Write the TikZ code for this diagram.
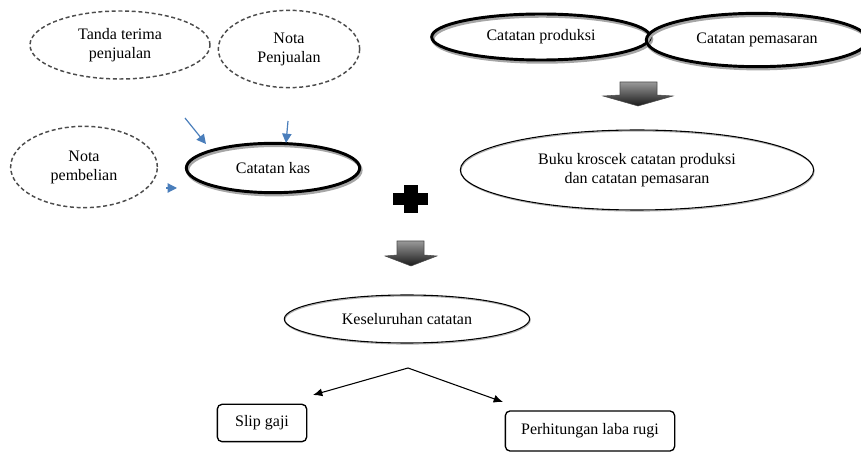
\documentclass[tikz,border=0pt]{standalone}
\usepackage{fontspec}
\setmainfont{Liberation Serif}
\usetikzlibrary{shapes.geometric, arrows.meta}
\definecolor{noteblue}{HTML}{4A7EBB}

\begin{document}
\begin{tikzpicture}[x=0.75pt, y=-0.75pt, font=\fontsize{12}{14}\selectfont,
	note/.style={ellipse, draw=black!70, line width=1.1pt, dash pattern=on 3pt off 2pt, inner sep=1pt},
	record/.style={ellipse, draw, line width=2.2pt, inner sep=1pt,
		preaction={draw=black!35, line width=2.4pt, transform canvas={shift={(1pt,-1.6pt)}}}},
	summary/.style={ellipse, draw, line width=0.8pt, inner sep=1pt,
		preaction={draw=black!30, line width=0.8pt, transform canvas={shift={(0.4pt,-0.8pt)}}}},
	result/.style={rectangle, rounded corners=3.5pt, draw, line width=1pt, inner sep=2pt},
	feed/.style={draw=noteblue, line width=0.9pt, -{Triangle[length=7pt, width=7pt]}},
	flow/.style={line width=0.8pt, -{Latex[length=7pt, width=6pt]}},
	blockarrow/.style={top color=black!40, bottom color=black!90, draw=black!70, line width=0.4pt}]
%	\draw[help lines] (0,0) grid[step=50] (861,452);
	\useasboundingbox (0,0) rectangle (861,452);

	% sources of the cash book
	\node[note, minimum width=135pt, minimum height=51pt] (tanda) at (120,45) {\begin{tabular}{c} Tanda terima \\ penjualan \end{tabular}};
	\node[note, minimum width=106pt, minimum height=58pt] (notajual) at (289,49) {\begin{tabular}{c} Nota \\ Penjualan \end{tabular}};
	\node[note, minimum width=110pt, minimum height=61pt] (notabeli) at (84,167) {\begin{tabular}{c} Nota \\ pembelian \end{tabular}};
	\node[record, minimum width=130pt, minimum height=37pt] (kas) at (273,168) {Catatan kas};

	\coordinate (in1) at (185,118); \coordinate (in1e) at (206,144);
	\coordinate (in2) at (288,121); \coordinate (in2e) at (286,143);
	\coordinate (in3) at (166,188); \coordinate (in3e) at (177,188);
	\draw[feed] (in1) -- (in1e);
	\draw[feed] (in2) -- (in2e);
	\draw[feed] (in3) -- (in3e);

	% production and marketing
	\node[record, minimum width=164pt, minimum height=34.5pt] (produksi) at (541,37) {Catatan produksi};
	\node[record, minimum width=166pt, minimum height=40pt] (pemasaran) at (757,40) {Catatan pemasaran};
	\shade[blockarrow] (620,82) -- (657,82) -- (657,95) -- (673,96) -- (638,106) -- (603,96) -- (620,95) -- cycle;
	\node[summary, minimum width=265pt, minimum height=60pt] (kroscek) at (637,170) {\begin{tabular}{c} Buku kroscek catatan produksi \\ dan catatan pemasaran \end{tabular}};

	% plus sign
	\fill (404,185) rectangle (418,213);
	\fill (393,193) rectangle (428,205);

	\shade[blockarrow] (397,241) -- (424,241) -- (424,255) -- (437,256) -- (411,266) -- (385,256) -- (397,255) -- cycle;
	\node[summary, minimum width=184pt, minimum height=36pt] (semua) at (407,319) {Keseluruhan catatan};

	% outputs
	\node[result, minimum width=67pt, minimum height=28pt] (slip) at (262,423) {Slip gaji};
	\node[result, minimum width=127pt, minimum height=30pt] (laba) at (590,431) {Perhitungan laba rugi};
	\coordinate (fork) at (408,368);
	\coordinate (toslip) at (313,395);
	\coordinate (tolaba) at (503,402);
	\draw[flow] (fork) -- (toslip);
	\draw[flow] (fork) -- (tolaba);
\end{tikzpicture}
\end{document}
